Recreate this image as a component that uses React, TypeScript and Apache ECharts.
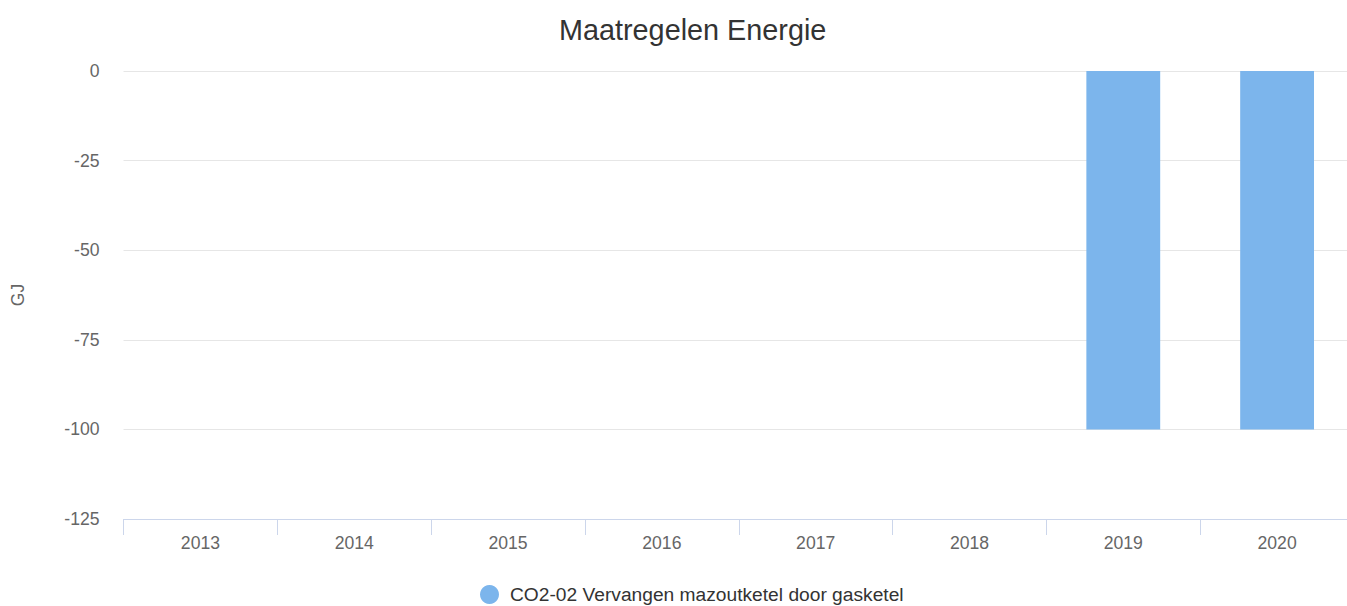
import React, { useEffect, useRef } from "react";
import * as echarts from "echarts";

const chartTitle = "Maatregelen Energie";
const yAxisTitle = "GJ";
const categories = ["2013", "2014", "2015", "2016", "2017", "2018", "2019", "2020"];
const seriesName = "CO2-02 Vervangen mazoutketel door gasketel";
const seriesValues = [0, 0, 0, 0, 0, 0, -100, -100];
const yMin = -125;
const yMax = 0;
const yStep = 25;

const FONT = '"Liberation Sans", Arial, Helvetica, sans-serif';

export default function App() {
  const ref = useRef<HTMLDivElement>(null);
  useEffect(() => {
    if (!ref.current) return;
    const chart = echarts.init(ref.current, undefined, { renderer: "svg" });
    chart.setOption({
      animation: false,
      backgroundColor: "#ffffff",
      textStyle: { fontFamily: FONT },
      title: {
        text: chartTitle,
        left: 559,
        top: 15,
        padding: 0,
        textStyle: { fontFamily: FONT, fontSize: 28.8, fontWeight: "normal", color: "#333333" },
      },
      legend: {
        left: 480,
        top: 585,
        padding: 0,
        itemWidth: 31,
        itemHeight: 19,
        icon: "circle",
        textStyle: { fontFamily: FONT, fontSize: 19.2, color: "#333333" },
        data: [seriesName],
      },
      grid: { left: 123.5, right: 16, top: 71, bottom: 87, containLabel: false },
      xAxis: {
        type: "category",
        data: categories,
        boundaryGap: true,
        axisLine: { show: true, onZero: false, lineStyle: { color: "#ccd6eb", width: 1 } },
        axisTick: { show: true, length: 16, lineStyle: { color: "#ccd6eb" }, alignWithLabel: false },
        axisLabel: { color: "#666666", fontSize: 17.6, fontFamily: FONT, margin: 15 },
        splitLine: { show: false },
      },
      yAxis: {
        type: "value",
        min: yMin,
        max: yMax,
        interval: yStep,
        name: yAxisTitle,
        nameLocation: "middle",
        nameGap: 97,
        nameRotate: 90,
        nameTextStyle: { color: "#666666", fontSize: 17.6, fontFamily: FONT },
        axisLine: { show: false },
        axisTick: { show: false },
        axisLabel: { color: "#666666", fontSize: 17.6, fontFamily: FONT, margin: 24 },
        splitLine: { show: true, lineStyle: { color: "#e6e6e6", width: 1 } },
      },
      series: [
        {
          name: seriesName,
          type: "bar",
          data: seriesValues,
          barWidth: "48%",
          itemStyle: { color: "#7cb5ec" },
        },
      ],
    });
    return () => chart.dispose();
  }, []);
  return (
    <div style={{ position: "absolute", left: 0, top: 0, width: 1347, height: 606, overflow: "hidden" }}>
      <div ref={ref} style={{ width: 1370, height: 606 }} />
    </div>
  );
}
